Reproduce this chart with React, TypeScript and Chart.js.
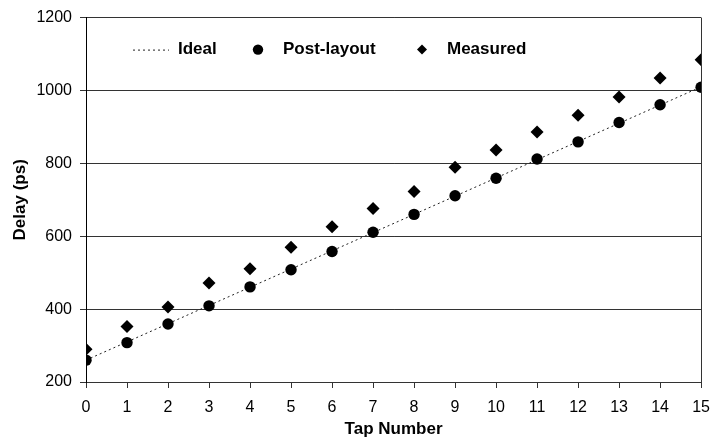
import React, { useEffect, useRef } from "react";
import { Chart, registerables } from "chart.js";

Chart.register(...registerables);

const taps = [0, 1, 2, 3, 4, 5, 6, 7, 8, 9, 10, 11, 12, 13, 14, 15];
const postLayout = [260, 308, 359, 409, 461, 508, 558, 611, 660, 711, 759, 812, 859, 912, 961, 1009];
const measured = [290, 352, 406, 472, 511, 570, 626, 676, 723, 789, 837, 886, 932, 982, 1034, 1084];
const idealTaps = [0, 15];
const idealDelay = [260, 1010];
const yTicks = [200, 400, 600, 800, 1000, 1200];
const legendLabels = ["Ideal", "Post-layout", "Measured"];

const FONT = "'Liberation Sans', Arial, Helvetica, sans-serif";

const framePlugin = {
  id: "frameAndLegend",
  afterDraw(chart: any) {
    const { ctx, chartArea } = chart;
    ctx.save();
    // right border
    ctx.strokeStyle = "#333";
    ctx.lineWidth = 1;
    ctx.beginPath();
    ctx.moveTo(Math.round(chartArea.right) + 0.5, chartArea.top);
    ctx.lineTo(Math.round(chartArea.right) + 0.5, chartArea.bottom);
    ctx.stroke();

    // legend inside plot
    const y = chartArea.top + 32;
    const l = chartArea.left;
    ctx.fillStyle = "#000";
    ctx.font = `bold 17px ${FONT}`;
    ctx.textBaseline = "middle";
    ctx.textAlign = "left";
    // ideal sample
    ctx.strokeStyle = "#222";
    ctx.setLineDash([2, 3]);
    ctx.beginPath();
    ctx.moveTo(l + 47, y + 0.5);
    ctx.lineTo(l + 83, y + 0.5);
    ctx.stroke();
    ctx.setLineDash([]);
    ctx.fillText(legendLabels[0], l + 92, y);
    // circle
    ctx.beginPath();
    ctx.arc(l + 172, y, 5.2, 0, Math.PI * 2);
    ctx.fill();
    ctx.fillText(legendLabels[1], l + 197, y);
    // diamond
    const dx = l + 336;
    const r = 5;
    ctx.beginPath();
    ctx.moveTo(dx, y - r);
    ctx.lineTo(dx + r, y);
    ctx.lineTo(dx, y + r);
    ctx.lineTo(dx - r, y);
    ctx.closePath();
    ctx.fill();
    ctx.fillText(legendLabels[2], l + 361, y);
    ctx.restore();
  },
};

export default function App() {
  const ref = useRef<HTMLCanvasElement>(null);
  useEffect(() => {
    if (!ref.current) return;
    const chart = new Chart(ref.current, {
      type: "scatter",
      data: {
        datasets: [
          {
            label: "Post-layout",
            data: taps.map((t, i) => ({ x: t, y: postLayout[i] })),
            pointStyle: "circle",
            pointRadius: 5.7,
            backgroundColor: "#000",
            borderColor: "#000",
            borderWidth: 0,
            order: 1,
          },
          {
            label: "Measured",
            data: taps.map((t, i) => ({ x: t, y: measured[i] })),
            pointStyle: "rectRot",
            pointRadius: 6.5,
            backgroundColor: "#000",
            borderColor: "#000",
            borderWidth: 0,
            order: 0,
          },
          {
            label: "Ideal",
            type: "line",
            data: idealTaps.map((t, i) => ({ x: t, y: idealDelay[i] })),
            borderColor: "#222",
            borderWidth: 1,
            borderDash: [2, 3],
            pointRadius: 0,
            showLine: true,
            fill: false,
            order: 2,
          } as any,
        ],
      },
      options: {
        responsive: false,
        animation: false,
        layout: { padding: { top: 15, right: 11, left: 0, bottom: 0 } },
        plugins: {
          legend: { display: false },
          tooltip: { enabled: false },
        },
        scales: {
          x: {
            type: "linear",
            min: 0,
            max: 15,
            afterFit: (s: any) => {
              s.height = 60;
            },
            ticks: {
              stepSize: 1,
              color: "#000",
              padding: 10,
              font: { family: FONT, size: 16 },
              callback: (v: any) => String(v),
            },
            grid: {
              drawOnChartArea: false,
              drawTicks: true,
              tickLength: 6,
              color: "#333",
            },
            border: { display: true, color: "#333", width: 1 },
            title: {
              display: true,
              text: "Tap Number",
              color: "#000",
              font: { family: FONT, size: 17, weight: "bold" },
              padding: { top: 0, bottom: 2 },
            },
          },
          y: {
            type: "linear",
            min: 200,
            max: 1200,
            afterFit: (s: any) => {
              s.width = 86;
            },
            afterBuildTicks: (s: any) => {
              s.ticks = yTicks.map((v) => ({ value: v }));
            },
            ticks: {
              color: "#000",
              padding: 8,
              font: { family: FONT, size: 16 },
              callback: (v: any) => String(v),
            },
            grid: {
              drawOnChartArea: true,
              drawTicks: true,
              tickLength: 6,
              color: "#333",
            },
            border: { display: true, color: "#000", width: 1 },
            title: {
              display: true,
              text: "Delay (ps)",
              color: "#000",
              font: { family: FONT, size: 17, weight: "bold" },
              padding: { top: 10, bottom: 0 },
            },
          },
        },
      },
      plugins: [framePlugin],
    });
    return () => chart.destroy();
  }, []);
  return (
    <div style={{ position: "fixed", left: 0, top: 0, width: 720, height: 442, background: "#fff" }}>
      <canvas ref={ref} width={720} height={442} style={{ width: 720, height: 442 }} />
    </div>
  );
}
